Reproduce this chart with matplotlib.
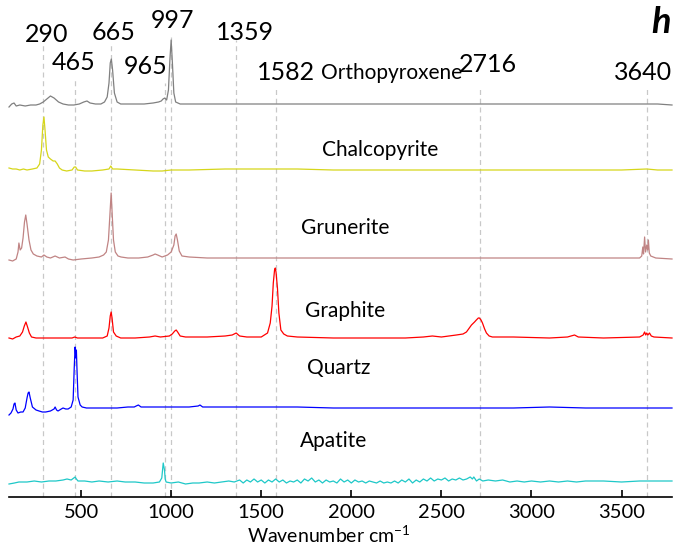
import matplotlib.pyplot as plt

plt.rcParams['font.family'] = ['Lato', 'DejaVu Sans']
plt.rcParams['mathtext.default'] = 'regular'

# spectra: (wavenumber, intensity above own baseline)
orthopyroxene = [(100, -2), (115, 1), (128, 2), (140, -1), (160, 0), (190, -1), (220, 0), (250, 0), (270, 1),
                 (290, 3), (310, 6), (330, 9), (350, 7), (375, 3), (400, 1), (430, 0), (460, 0), (490, 1),
                 (515, 3), (533, 4), (550, 2), (580, 1), (610, 1), (630, 3), (645, 8), (655, 22), (662, 42),
                 (668, 46), (675, 35), (685, 12), (700, 3), (720, 1), (760, 1), (800, 1), (850, 1), (900, 2),
                 (930, 3), (945, 4), (955, 6), (965, 7), (975, 5), (985, 15), (993, 45), (1000, 65),
                 (1007, 42), (1015, 12), (1025, 3), (1050, 1), (1100, 1), (1300, 1), (1400, 1), (1600, 1),
                 (1800, 1), (2000, 1), (2200, 1), (2400, 1), (2600, 1), (2800, 1), (3000, 1), (3200, 1),
                 (3400, 1), (3600, 1), (3700, 1), (3780, 0)]

chalcopyrite = [(100, 2), (120, 1), (140, 1), (160, 0), (180, 1), (200, 0), (230, 1), (255, 2), (270, 6),
                (280, 20), (288, 45), (294, 53), (300, 40), (308, 20), (318, 13), (330, 11), (345, 9),
                (356, 9), (368, 6), (380, 2), (395, 0), (420, -1), (450, 0), (462, 3), (470, 3), (480, 0),
                (520, -1), (560, -1), (620, 0), (655, 1), (665, 4), (675, 1), (700, 1), (800, 0), (900, -1),
                (950, -1), (1000, 0), (1100, 0), (1300, 1), (1500, 1), (1700, 1), (1900, 0), (2100, 0),
                (2300, 0), (2500, 0), (2700, 0), (2900, 0), (3100, 0), (3300, 0), (3500, 0), (3640, 1),
                (3700, 0), (3780, 0)]

grunerite = [(100, 0), (120, -1), (140, 1), (150, 8), (155, 17), (162, 10), (170, 12), (178, 22), (186, 38),
             (193, 45), (200, 36), (211, 20), (222, 10), (235, 6), (255, 4), (280, 3), (294, 5), (310, 3),
             (330, 2), (356, 4), (380, 2), (411, 3), (430, 1), (456, 0), (500, 1), (560, 2), (600, 3),
             (625, 5), (640, 8), (652, 20), (660, 45), (667, 67), (673, 45), (680, 20), (690, 8), (705, 4),
             (722, 3), (760, 2), (820, 2), (870, 3), (900, 5), (911, 6), (925, 5), (950, 3), (980, 5),
             (1000, 8), (1015, 15), (1022, 24), (1028, 26), (1035, 20), (1045, 9), (1060, 4), (1100, 3),
             (1200, 2), (1400, 2), (1600, 2), (1800, 2), (2000, 2), (2200, 2), (2400, 2), (2600, 2),
             (2800, 2), (3000, 2), (3200, 2), (3400, 2), (3600, 2), (3612, 4), (3618, 13), (3622, 6),
             (3628, 23), (3633, 8), (3640, 15), (3645, 10), (3649, 20), (3654, 7), (3662, 4), (3690, 2),
             (3780, 1)]

graphite = [(100, 0), (120, -1), (140, 1), (160, 2), (175, 6), (185, 12), (194, 16), (203, 11), (213, 5),
            (225, 1), (250, 0), (300, 0), (400, 0), (450, 0), (465, 1), (480, 0), (550, 0), (620, 0),
            (645, 2), (655, 10), (662, 22), (667, 26), (672, 20), (680, 6), (695, 2), (720, 0), (800, 0),
            (880, 1), (911, 2), (940, 1), (990, 2), (1006, 4), (1020, 7), (1028, 8), (1036, 6), (1050, 2),
            (1080, 1), (1200, 1), (1300, 2), (1339, 3), (1361, 5), (1380, 2), (1420, 1), (1500, 1),
            (1535, 5), (1550, 15), (1560, 32), (1567, 55), (1574, 68), (1578, 70), (1582, 66), (1590, 50),
            (1598, 25), (1609, 8), (1625, 4), (1645, 2), (1700, 1), (1900, 0), (2100, 0), (2300, 0),
            (2400, 1), (2450, 2), (2500, 1), (2583, 3), (2620, 4), (2639, 6), (2655, 10), (2667, 13),
            (2684, 16), (2694, 18), (2705, 20), (2711, 20), (2720, 18), (2728, 15), (2740, 9), (2750, 5),
            (2765, 2), (2783, 1), (2900, 1), (3100, 0), (3200, 1), (3239, 3), (3260, 1), (3400, 0),
            (3600, 1), (3620, 3), (3628, 6), (3634, 3), (3640, 5), (3646, 3), (3655, 5), (3665, 2),
            (3680, 1), (3780, 0)]

quartz = [(100, -7), (111, -5), (122, -1), (128, 4), (133, 5), (140, -2), (150, -5), (165, -4), (178, -4),
          (190, 0), (200, 10), (206, 15), (211, 16), (218, 10), (230, 1), (250, -2), (267, -3), (285, -4),
          (304, -4), (330, -3), (350, -1), (356, 1), (364, -2), (372, -3), (390, -1), (400, 0), (415, -1),
          (428, -1), (445, 1), (456, 8), (462, 40), (467, 61), (471, 50), (474, 58), (478, 35), (483, 11),
          (495, 3), (506, 1), (530, 0), (561, 0), (650, 0), (700, 0), (760, 1), (795, 1), (806, 2),
          (818, 3), (833, 1), (900, 1), (1000, 1), (1100, 1), (1150, 2), (1160, 3), (1175, 1), (1300, 1),
          (1500, 1), (1700, 1), (1900, 0), (2100, 0), (2300, 0), (2500, 0), (2700, 0), (2900, 0),
          (3100, 1), (3300, 0), (3500, 0), (3700, 0), (3780, 0)]

apatite = [(100, -2), (130, -1), (155, 0), (200, 0), (240, 1), (280, 0), (322, 1), (360, 1), (400, 2),
           (422, 3), (445, 2), (460, 4), (467, 5), (474, 3), (483, 1), (520, 1), (560, 0), (600, 1),
           (650, 0), (700, 1), (745, 0), (800, 0), (850, -1), (900, -1), (935, 0), (948, 4), (956, 19),
           (960, 15), (963, 12), (967, 3), (972, 0), (1000, -1), (1040, 0), (1080, -2), (1120, -1),
           (1155, -1), (1200, 0), (1240, -1), (1280, 0), (1320, 1), (1350, 0), (1380, 2), (1400, -1),
           (1420, 2), (1440, 0), (1460, 3), (1480, 0), (1500, 2), (1520, -1), (1540, 2), (1560, 0),
           (1580, 3), (1600, 0), (1620, 2), (1640, -1), (1660, 1), (1680, 0), (1700, 2), (1720, -1),
           (1740, 3), (1760, 1), (1780, 4), (1800, 0), (1820, 2), (1840, -1), (1860, 2), (1880, 0),
           (1900, 1), (1920, -1), (1940, 3), (1960, 0), (1980, 2), (2000, -1), (2020, 2), (2040, 0),
           (2060, 1), (2080, -1), (2100, 1), (2120, 0), (2140, -1), (2160, 1), (2180, -1), (2200, 0),
           (2220, -1), (2240, 1), (2260, -1), (2280, 2), (2300, 0), (2320, 3), (2340, -1), (2360, 2),
           (2380, 0), (2400, 3), (2420, 1), (2440, 4), (2460, 1), (2480, 3), (2500, 2), (2520, 4),
           (2540, 1), (2560, 3), (2580, 2), (2600, 4), (2620, 2), (2640, 3), (2660, 5), (2672, 3),
           (2680, 5), (2695, 1), (2710, 3), (2730, 1), (2760, 2), (2800, 1), (2840, 2), (2880, 0),
           (2920, 1), (2960, 0), (3000, 1), (3050, 0), (3100, 1), (3150, 0), (3200, 1), (3250, 0),
           (3300, 1), (3400, 1), (3500, 0), (3600, 1), (3700, 1), (3780, 1)]

names = ['Orthopyroxene', 'Chalcopyrite', 'Grunerite', 'Graphite', 'Quartz', 'Apatite']
spectra = [orthopyroxene, chalcopyrite, grunerite, graphite, quartz, apatite]
colors = ['#808080', '#d6d61a', '#c08484', '#ff0000', '#0000ff', '#1ec8c8']
offsets = [392, 327, 237, 159, 89, 15]
name_pos = [(2222, 424), (2161, 347), (1967, 269), (1967, 186), (1928, 129), (1900, 56)]

peaks = [290, 465, 665, 965, 997, 1359, 1582, 2716, 3640]
peak_line_top = [452, 420, 452, 414, 462, 457, 410, 410, 410]
peak_label_pos = [(311, 462), (456, 434), (683, 464), (856, 431), (1006, 476), (1411, 465),
                  (1639, 425), (2761, 432), (3617, 425)]

fig = plt.figure(figsize=(6.79, 5.44), dpi=100)
ax = fig.add_axes([9 / 679, 47 / 544, 663 / 679, 497 / 544])

ax.vlines(peaks, 0, peak_line_top, colors='#c8c8c8', linestyles=(0, (4, 3)), linewidth=0.9, zorder=1)

for spec, off, c in zip(spectra, offsets, colors):
    x, y = zip(*spec)
    ax.plot(x, [v + off for v in y], color=c, linewidth=0.9, zorder=2, clip_on=False)

for name, (px, py) in zip(names, name_pos):
    ax.text(px, py, name, fontsize=15, ha='center', va='center', color='black')

for p, (px, py) in zip(peaks, peak_label_pos):
    ax.text(px, py, str(p), fontsize=18, ha='center', va='center', color='black')

ax.text(0.983, 0.955, 'h', transform=ax.transAxes, fontsize=26, fontweight='bold', fontstyle='italic',
        ha='center', va='center', color='black')

ax.set_xlim(100, 3780)
ax.set_ylim(0, 497)
for s in ['left', 'right', 'top']:
    ax.spines[s].set_visible(False)
ax.spines['bottom'].set_linewidth(1.2)
ax.set_yticks([])
ax.set_xticks([500, 1000, 1500, 2000, 2500, 3000, 3500])
ax.tick_params(axis='x', direction='in', length=5, width=1.2, labelsize=14.5, pad=5)
ax.set_xlabel('Wavenumber cm$^{-1}$', fontsize=14)
ax.xaxis.set_label_coords(0.483, -0.055)

plt.savefig('out.png', dpi=100)
